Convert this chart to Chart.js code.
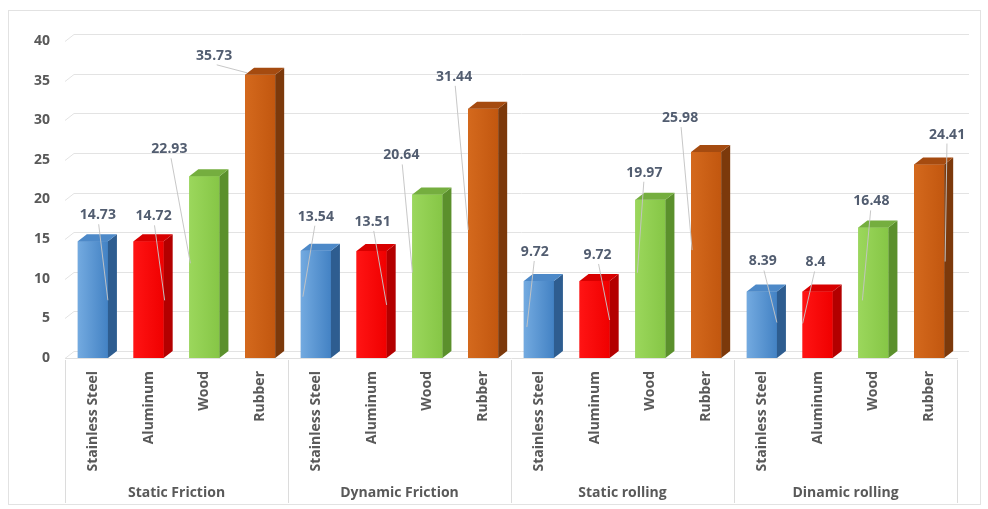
<!DOCTYPE html>
<html>
<head>
<meta charset="utf-8">
<script src="https://cdn.jsdelivr.net/npm/chart.js@4.4.1/dist/chart.umd.min.js"></script>
<style>
  html, body { margin: 0; padding: 0; background: #fff; }
  #wrap { width: 988px; height: 509px; position: relative; }
</style>
</head>
<body>
<div id="wrap"><canvas id="chart"></canvas></div>
<script>
// ── DATA ──────────────────────────────────────────────────────────────────
const groups          = ['Static Friction', 'Dynamic Friction', 'Static rolling', 'Dinamic rolling'];
const materials       = ['Stainless Steel', 'Aluminum', 'Wood', 'Rubber'];
const staticFriction  = [14.73, 14.72, 22.93, 35.73];
const dynamicFriction = [13.54, 13.51, 20.64, 31.44];
const staticRolling   = [9.72, 9.72, 19.97, 25.98];
const dinamicRolling  = [8.39, 8.4, 16.48, 24.41];
const yMin = 0, yMax = 40, yStep = 5;

const labels = groups.flatMap(() => materials);
const values = [staticFriction, dynamicFriction, staticRolling, dinamicRolling].flat();

// ── STYLE ─────────────────────────────────────────────────────────────────
const frontLight = ['#73aae0', '#ff1414', '#9bd75c', '#d4691d'];
const frontDark  = ['#4382c4', '#f00000', '#86c646', '#c2570f'];
const sideColor  = ['#2e5d90', '#b30000', '#5b902c', '#7c390b'];
const topColor   = ['#4d89c8', '#d80000', '#75ae3f', '#a54b10'];
const depth = { dx: 9, dy: 7 };

// label centre / leader end, px relative to (bar centre, bar top)
const labelOffset = [
  [5, -26], [5, -25], [-35, -27], [-46, -19],
  [0, -34], [1, -29], [-26, -39], [-29, -32],
  [-4, -29], [3, -26], [-6, -27], [-26, -34],
  [1, -30], [-2, -29], [-2, -26], [18, -30]
];
const leaderEnd = [
  [15, 59], [16, 59], [-14, 87], [-13, -2],
  [-13, 46], [15, 54], [-15, 78], [-15, 121],
  [-12, 46], [15, 39], [-13, 73], [-14, 98],
  [15, 31], [-15, 32], [-11, 73], [16, 97]
];

const FONT = "'Open Sans', sans-serif";

// ── 3D BARS + BACK-WALL GRID ──────────────────────────────────────────────
const bar3d = {
  id: 'bar3d',
  beforeDatasetsDraw(chart) {
    const { ctx, chartArea, scales: { y } } = chart;
    ctx.save();
    ctx.strokeStyle = '#e3e3e3';
    ctx.lineWidth = 1;
    y.ticks.forEach(t => {
      const py = Math.round(y.getPixelForValue(t.value)) + 0.5;
      ctx.beginPath();
      ctx.moveTo(chartArea.left, py);
      ctx.lineTo(chartArea.left + depth.dx, py - depth.dy);
      ctx.lineTo(chartArea.right + depth.dx + 3, py - depth.dy);
      ctx.stroke();
    });
    ctx.restore();
  },
  afterDatasetsDraw(chart) {
    const { ctx } = chart;
    const { dx, dy } = depth;
    ctx.save();
    chart.getDatasetMeta(0).data.forEach((bar, i) => {
      const m = i % materials.length;
      const l = bar.x - bar.width / 2, r = bar.x + bar.width / 2;
      const t = bar.y, b = bar.base;

      const g = ctx.createLinearGradient(l, 0, r, 0);
      g.addColorStop(0, frontLight[m]);
      g.addColorStop(1, frontDark[m]);
      ctx.fillStyle = g;
      ctx.fillRect(l, t, r - l, b - t);

      ctx.fillStyle = sideColor[m];
      ctx.beginPath();
      ctx.moveTo(r, t);
      ctx.lineTo(r + dx, t - dy);
      ctx.lineTo(r + dx, b - dy);
      ctx.lineTo(r, b);
      ctx.closePath();
      ctx.fill();

      ctx.fillStyle = topColor[m];
      ctx.beginPath();
      ctx.moveTo(l, t);
      ctx.lineTo(l + dx, t - dy);
      ctx.lineTo(r + dx, t - dy);
      ctx.lineTo(r, t);
      ctx.closePath();
      ctx.fill();
    });
    ctx.restore();
  }
};

// ── VALUE LABELS WITH LEADER LINES ────────────────────────────────────────
const valueLabels = {
  id: 'valueLabels',
  afterDatasetsDraw(chart) {
    const { ctx } = chart;
    const data = chart.data.datasets[0].data;
    ctx.save();
    ctx.font = `bold 14px ${FONT}`;
    ctx.textAlign = 'center';
    ctx.textBaseline = 'middle';
    chart.getDatasetMeta(0).data.forEach((bar, i) => {
      const lx = bar.x + labelOffset[i][0], ly = bar.y + labelOffset[i][1];
      const ex = bar.x + leaderEnd[i][0],   ey = bar.y + leaderEnd[i][1];
      const txt = String(data[i]);
      const w = ctx.measureText(txt).width;

      ctx.strokeStyle = 'rgba(196,196,196,0.95)';
      ctx.lineWidth = 1;
      ctx.beginPath();
      if (ey < ly + 10) {
        // leader leaves from the right side of the label
        ctx.moveTo(lx + w / 2 + 3, ly);
        ctx.lineTo(ex, ly + 1);
      } else {
        ctx.moveTo(lx + (ex - lx) * 0.08, ly + 9);
      }
      ctx.lineTo(ex, ey);
      ctx.stroke();

      ctx.fillStyle = '#525d70';
      ctx.fillText(txt, lx, ly);
    });
    ctx.restore();
  }
};

// ── GROUP LABELS, SEPARATORS, FRAME ───────────────────────────────────────
const groupAxis = {
  id: 'groupAxis',
  afterDraw(chart) {
    const { ctx, chartArea, scales: { x } } = chart;
    const half = (x.getPixelForValue(1) - x.getPixelForValue(0)) / 2;
    const n = materials.length;
    ctx.save();
    ctx.strokeStyle = '#dcdcdc';
    ctx.lineWidth = 1;
    for (let g = 0; g <= groups.length; g++) {
      const px = Math.round(x.getPixelForValue(g * n) - half) + 0.5;
      ctx.beginPath();
      ctx.moveTo(px, chartArea.bottom + 2);
      ctx.lineTo(px, 503);
      ctx.stroke();
    }
    ctx.fillStyle = '#595959';
    ctx.font = `bold 14px ${FONT}`;
    ctx.textAlign = 'center';
    ctx.textBaseline = 'middle';
    groups.forEach((name, g) => {
      const a = x.getPixelForValue(g * n) - half;
      const b = x.getPixelForValue(g * n + n - 1) + half;
      ctx.fillText(name, (a + b) / 2, 493);
    });
    // outer frame
    ctx.strokeStyle = '#e2e2e2';
    ctx.strokeRect(8.5, 10.5, 972, 494);
    ctx.restore();
  }
};

new Chart(document.getElementById('chart'), {
  type: 'bar',
  data: {
    labels,
    datasets: [{
      data: values,
      backgroundColor: values.map((_, i) => frontDark[i % materials.length]),
      borderWidth: 0,
      barPercentage: 0.54,
      categoryPercentage: 1.0
    }]
  },
  options: {
    responsive: true,
    maintainAspectRatio: false,
    animation: false,
    layout: { padding: { left: 8, right: 31, top: 41, bottom: 0 } },
    plugins: {
      legend: { display: false },
      tooltip: { enabled: false }
    },
    scales: {
      x: {
        grid: { display: false, drawTicks: false },
        border: { display: true, color: '#e0e0e0' },
        ticks: {
          minRotation: 90, maxRotation: 90, autoSkip: false,
          padding: 13,
          color: '#595959',
          font: { family: FONT, size: 14, weight: 'bold' }
        },
        afterFit: s => { s.height = 151; }
      },
      y: {
        min: yMin, max: yMax,
        grid: { display: false, drawTicks: false },
        border: { display: false },
        ticks: {
          stepSize: yStep,
          padding: 15,
          color: '#595959',
          font: { family: FONT, size: 14, weight: 'bold' }
        },
        afterFit: s => { s.width = 57; }
      }
    }
  },
  plugins: [bar3d, valueLabels, groupAxis]
});
</script>
</body>
</html>
